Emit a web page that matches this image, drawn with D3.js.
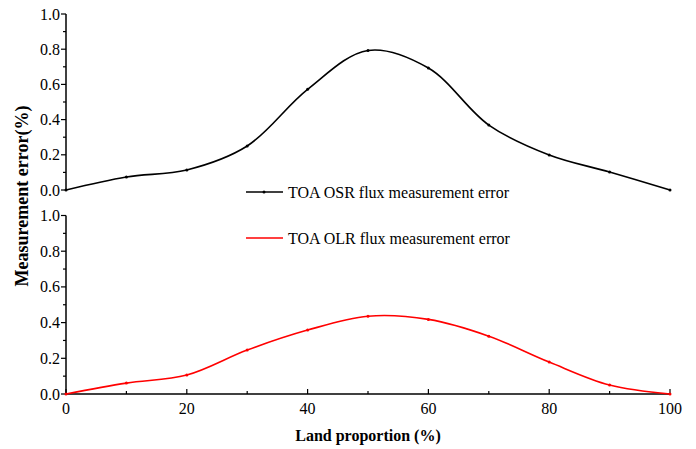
<!DOCTYPE html>
<html>
<head>
<meta charset="utf-8">
<script src="https://cdn.jsdelivr.net/npm/d3@7"></script>
<style>
  body { margin: 0; background: #fff; }
  text { font-family: "Liberation Serif", "Times New Roman", serif; }
</style>
</head>
<body>
<div id="chart"></div>
<script>
// land proportion (%)
const landProportion = [0, 10, 20, 30, 40, 50, 60, 70, 80, 90, 100];
// measurement errors (%)
const osrError = [0.0, 0.074, 0.114, 0.25, 0.572, 0.793, 0.693, 0.369, 0.199, 0.102, 0.0];
const olrError = [0.0, 0.061, 0.106, 0.246, 0.358, 0.436, 0.418, 0.324, 0.179, 0.05, 0.0];
const xTicks = [0, 20, 40, 60, 80, 100];
const yTicks = [0, 0.2, 0.4, 0.6, 0.8, 1.0];

const W = 696, H = 449;
const left = 66, right = 670;

const svg = d3.select('#chart').append('svg')
    .attr('width', W)
    .attr('height', H);

const x = d3.scaleLinear().domain([0, 100]).range([left, right]);
const yTop = d3.scaleLinear().domain([0, 1]).range([190, 14]);
const yBot = d3.scaleLinear().domain([0, 1]).range([394, 215.5]);

// y axes for both panels
function drawYAxis(y) {
    const g = svg.append('g').attr('transform', 'translate(' + left + ',0)');
    g.append('line')
        .attr('y1', y(0)).attr('y2', y(1))
        .attr('stroke', '#000').attr('stroke-width', 1.5);
    g.selectAll('.major').data(yTicks).enter().append('line')
        .attr('x1', -5).attr('x2', 0)
        .attr('y1', d => y(d)).attr('y2', d => y(d))
        .attr('stroke', '#000').attr('stroke-width', 1.2);
    g.selectAll('.minor').data(d3.range(0.1, 1, 0.2)).enter().append('line')
        .attr('x1', -3).attr('x2', 0)
        .attr('y1', d => y(d)).attr('y2', d => y(d))
        .attr('stroke', '#000').attr('stroke-width', 1.2);
    g.selectAll('.lab').data(yTicks).enter().append('text')
        .attr('x', -6).attr('y', d => y(d) + 5.5)
        .attr('text-anchor', 'end')
        .attr('font-size', 16)
        .text(d3.format('.1f'));
}
drawYAxis(yTop);
drawYAxis(yBot);

// bottom x axis
const gx = svg.append('g');
gx.append('line')
    .attr('x1', x(0)).attr('x2', x(100))
    .attr('y1', 394).attr('y2', 394)
    .attr('stroke', '#000').attr('stroke-width', 1.5);
gx.selectAll('.major').data(xTicks).enter().append('line')
    .attr('x1', d => x(d)).attr('x2', d => x(d))
    .attr('y1', 394).attr('y2', 389)
    .attr('stroke', '#000').attr('stroke-width', 1.2);
gx.selectAll('.minor').data(d3.range(10, 100, 20)).enter().append('line')
    .attr('x1', d => x(d)).attr('x2', d => x(d))
    .attr('y1', 394).attr('y2', 391)
    .attr('stroke', '#000').attr('stroke-width', 1.2);
gx.selectAll('.lab').data(xTicks).enter().append('text')
    .attr('x', d => x(d)).attr('y', 414)
    .attr('text-anchor', 'middle')
    .attr('font-size', 16)
    .text(d => d);

// axis titles
svg.append('text')
    .attr('x', 368).attr('y', 441)
    .attr('text-anchor', 'middle')
    .attr('font-size', 16).attr('font-weight', 'bold')
    .text('Land proportion (%)');
svg.append('text')
    .attr('transform', 'translate(28,196) rotate(-90)')
    .attr('text-anchor', 'middle')
    .attr('font-size', 18).attr('font-weight', 'bold')
    .text('Measurement error(%)');

// curves
function drawSeries(values, y, color) {
    const pts = landProportion.map((d, i) => [x(d), y(values[i])]);
    svg.append('path')
        .attr('d', d3.line().curve(d3.curveCatmullRom.alpha(0.5))(pts))
        .attr('fill', 'none')
        .attr('stroke', color)
        .attr('stroke-width', 1.6);
    svg.selectAll(null).data(pts).enter().append('circle')
        .attr('cx', d => d[0]).attr('cy', d => d[1])
        .attr('r', 1.5)
        .attr('fill', color);
}
drawSeries(osrError, yTop, '#000');
drawSeries(olrError, yBot, '#ff0000');

// legend
const legend = [
    { label: 'TOA OSR flux measurement error', color: '#000', y: 192 },
    { label: 'TOA OLR flux measurement error', color: '#ff0000', y: 238 }
];
const lg = svg.selectAll('.legend').data(legend).enter().append('g');
lg.append('line')
    .attr('x1', 246).attr('x2', 283)
    .attr('y1', d => d.y).attr('y2', d => d.y)
    .attr('stroke', d => d.color).attr('stroke-width', 1.6);
lg.filter((d, i) => i === 0).append('circle')
    .attr('cx', 264).attr('cy', d => d.y).attr('r', 1.5)
    .attr('fill', d => d.color);
lg.append('text')
    .attr('x', 288).attr('y', d => d.y + 5.5)
    .attr('font-size', 16)
    .text(d => d.label);
</script>
</body>
</html>
